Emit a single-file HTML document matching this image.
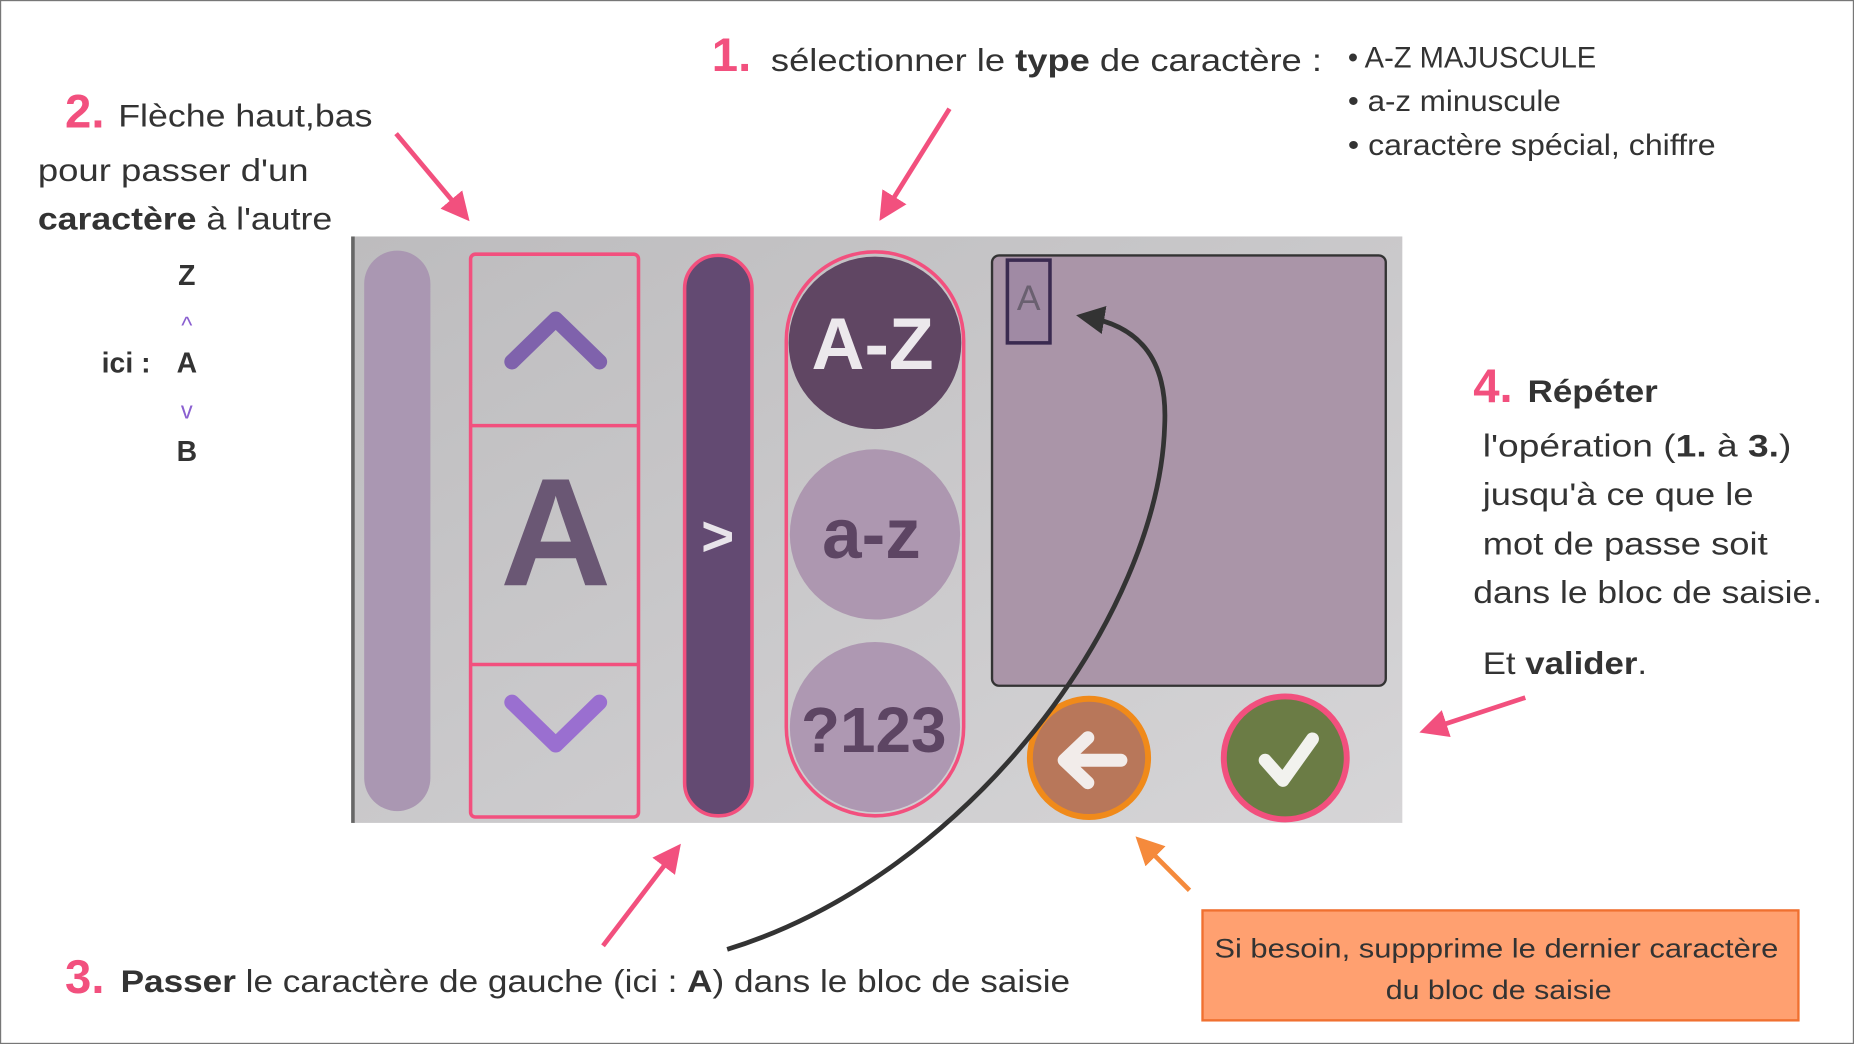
<!DOCTYPE html>
<html><head><meta charset="utf-8"><style>
html,body{margin:0;padding:0;background:#fff;width:1854px;height:1044px;overflow:hidden}
svg{display:block}
text{font-family:"Liberation Sans",sans-serif;fill:#333}
</style></head><body>
<svg width="1854" height="1044" viewBox="0 0 1568 883" preserveAspectRatio="none">
<defs>
<marker id="pk" markerWidth="6" markerHeight="6" refX="4" refY="3" orient="auto" markerUnits="strokeWidth"><path d="M0,0 L6,3 L0,6 z" fill="#f2507e"/></marker>
<marker id="or" markerWidth="6" markerHeight="6" refX="4" refY="3" orient="auto" markerUnits="strokeWidth"><path d="M0,0 L6,3 L0,6 z" fill="#f58a3c"/></marker>
<marker id="dk" markerWidth="6" markerHeight="6" refX="4" refY="3" orient="auto" markerUnits="strokeWidth"><path d="M0,0 L6,3 L0,6 z" fill="#333"/></marker>
<linearGradient id="bg" x1="0" y1="0" x2="1" y2="1"><stop offset="0" stop-color="#bdbcbe"/><stop offset="1" stop-color="#d6d5d7"/></linearGradient>
</defs>
<rect x="0.5" y="0.5" width="1567" height="882" fill="#fff" stroke="#777" stroke-width="1"/>
<rect x="297" y="200" width="889" height="496" fill="url(#bg)"/>
<rect x="297" y="200" width="3" height="496" fill="#666"/>
<rect x="308" y="212" width="56" height="474" rx="28" fill="#aa97b2"/>
<rect x="398" y="215" width="142" height="476" rx="4" fill="none" stroke="#f2507e" stroke-width="3"/>
<line x1="398" y1="360" x2="540" y2="360" stroke="#f2507e" stroke-width="3"/>
<line x1="398" y1="562" x2="540" y2="562" stroke="#f2507e" stroke-width="3"/>
<path d="M433,306 L470,270 L507,306" fill="none" stroke="#7f62ac" stroke-width="13" stroke-linecap="round" stroke-linejoin="round"/>
<path d="M433,594 L470,630 L507,594" fill="none" stroke="#9a6fd0" stroke-width="13" stroke-linecap="round" stroke-linejoin="round"/>
<text x="470" y="495" font-size="130" font-weight="bold" text-anchor="middle" style="fill:#6a5774">A</text>
<rect x="579" y="216" width="57" height="474" rx="28" fill="#634a72" stroke="#f2507e" stroke-width="3"/>
<text x="607" y="470" font-size="48" font-weight="bold" text-anchor="middle" style="fill:#e8e4ea">&gt;</text>
<rect x="665" y="213" width="150" height="477" rx="75" fill="none" stroke="#f2507e" stroke-width="3"/>
<circle cx="740" cy="290" r="73" fill="#604663"/>
<circle cx="740" cy="452" r="72" fill="#ad97b0"/>
<circle cx="740" cy="615" r="72" fill="#ae98b2"/>
<text x="738" y="312" font-size="62" font-weight="bold" text-anchor="middle" style="fill:#ece8ec">A-Z</text>
<text x="737" y="472" font-size="60" font-weight="bold" text-anchor="middle" style="fill:#5d4563">a-z</text>
<text x="739" y="636" font-size="54" font-weight="bold" text-anchor="middle" style="fill:#5d4563">?123</text>
<rect x="839" y="216" width="333" height="364" rx="6" fill="#aa95a8" stroke="#333" stroke-width="2"/>
<rect x="852" y="220" width="36" height="70" fill="#a08aa4" stroke="#3a2a50" stroke-width="3"/>
<text x="870" y="262" font-size="30" text-anchor="middle" style="fill:#6a6070">A</text>
<circle cx="921" cy="641" r="50" fill="#b8775a" stroke="#f08a1a" stroke-width="5"/>
<path d="M948,643 L902,643 M920,624 L900,643 L920,662" fill="none" stroke="#f2ecea" stroke-width="11" stroke-linecap="round" stroke-linejoin="round"/>
<circle cx="1087" cy="641" r="52" fill="#6b7c45" stroke="#f2507e" stroke-width="5"/>
<path d="M1070,643 L1085,660 L1110,625" fill="none" stroke="#f2f2ee" stroke-width="11" stroke-linecap="round" stroke-linejoin="round"/>
<path d="M615,803 C820,740 980,520 985,360 C988,300 960,275 918,268" fill="none" stroke="#333" stroke-width="4" marker-end="url(#dk)"/>
<line x1="335" y1="113" x2="392" y2="181" stroke="#f2507e" stroke-width="4" marker-end="url(#pk)"/>
<line x1="803" y1="92" x2="748" y2="180" stroke="#f2507e" stroke-width="4" marker-end="url(#pk)"/>
<line x1="510" y1="800" x2="571" y2="720" stroke="#f2507e" stroke-width="4" marker-end="url(#pk)"/>
<line x1="1290" y1="590" x2="1208" y2="617" stroke="#f2507e" stroke-width="4" marker-end="url(#pk)"/>
<line x1="1006" y1="753" x2="966" y2="713" stroke="#f58a3c" stroke-width="4" marker-end="url(#or)"/>
<text x="602" y="60" font-size="40" font-weight="bold" style="fill:#f2507e">1.</text>
<text x="652" y="60" font-size="27" textLength="466" lengthAdjust="spacingAndGlyphs">sélectionner le <tspan font-weight="bold">type</tspan> de caractère :</text>
<text x="1140" y="57" font-size="25" textLength="210" lengthAdjust="spacingAndGlyphs">• A-Z MAJUSCULE</text>
<text x="1140" y="94" font-size="25" textLength="180" lengthAdjust="spacingAndGlyphs">• a-z minuscule</text>
<text x="1140" y="131" font-size="25" textLength="311" lengthAdjust="spacingAndGlyphs">• caractère spécial, chiffre</text>
<text x="55" y="108" font-size="40" font-weight="bold" style="fill:#f2507e">2.</text>
<text x="100" y="107" font-size="27" textLength="215" lengthAdjust="spacingAndGlyphs">Flèche haut,bas</text>
<text x="32" y="153" font-size="27" textLength="229" lengthAdjust="spacingAndGlyphs">pour passer d'un</text>
<text x="32" y="194" font-size="27" textLength="249" lengthAdjust="spacingAndGlyphs"><tspan font-weight="bold">caractère</tspan> à l'autre</text>
<text x="158" y="241" font-size="24" font-weight="bold" text-anchor="middle">Z</text>
<text x="158" y="282" font-size="20" text-anchor="middle" style="fill:#8a5fd0">^</text>
<text x="86" y="315" font-size="24" font-weight="bold">ici :</text>
<text x="158" y="315" font-size="24" font-weight="bold" text-anchor="middle">A</text>
<text x="158" y="354" font-size="20" text-anchor="middle" style="fill:#8a5fd0">v</text>
<text x="158" y="390" font-size="24" font-weight="bold" text-anchor="middle">B</text>
<text x="55" y="840" font-size="40" font-weight="bold" style="fill:#f2507e">3.</text>
<text x="102" y="839" font-size="27" textLength="803" lengthAdjust="spacingAndGlyphs"><tspan font-weight="bold">Passer</tspan> le caractère de gauche (ici : <tspan font-weight="bold">A</tspan>) dans le bloc de saisie</text>
<text x="1246" y="340" font-size="40" font-weight="bold" style="fill:#f2507e">4.</text>
<text x="1292" y="340" font-size="27" font-weight="bold" textLength="110" lengthAdjust="spacingAndGlyphs">Répéter</text>
<text x="1254" y="386" font-size="27" textLength="261" lengthAdjust="spacingAndGlyphs">l'opération (<tspan font-weight="bold">1.</tspan> à <tspan font-weight="bold">3.</tspan>)</text>
<text x="1254" y="427" font-size="27" textLength="229" lengthAdjust="spacingAndGlyphs">jusqu'à ce que le</text>
<text x="1254" y="469" font-size="27" textLength="241" lengthAdjust="spacingAndGlyphs">mot de passe soit</text>
<text x="1246" y="510" font-size="27" textLength="295" lengthAdjust="spacingAndGlyphs">dans le bloc de saisie.</text>
<text x="1254" y="570" font-size="27" textLength="139" lengthAdjust="spacingAndGlyphs">Et <tspan font-weight="bold">valider</tspan>.</text>
<rect x="1017" y="770" width="504" height="93" fill="#ffa070" stroke="#f07030" stroke-width="2"/>
<text x="1027" y="810" font-size="23" textLength="477" lengthAdjust="spacingAndGlyphs">Si besoin, suppprime le dernier caractère</text>
<text x="1172" y="845" font-size="23" textLength="191" lengthAdjust="spacingAndGlyphs">du bloc de saisie</text>
</svg>
</body></html>
